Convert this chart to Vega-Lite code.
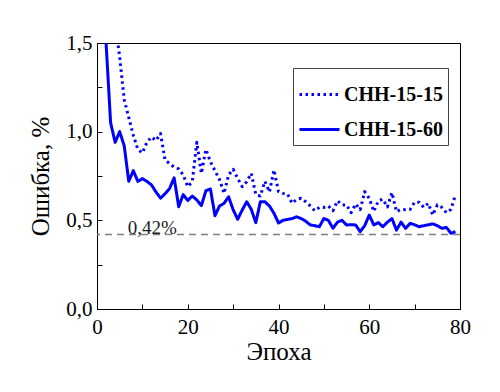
{
  "$schema": "https://vega.github.io/schema/vega-lite/v6.json",
  "width": 363,
  "height": 266,
  "autosize": "none",
  "padding": {"left": 97, "top": 43, "right": 40, "bottom": 83},
  "background": "white",
  "config": {
    "view": {"stroke": "black", "strokeWidth": 1},
    "font": "Liberation Serif",
    "axis": {"grid": false, "domainColor": "black", "tickColor": "black", "labelColor": "black", "titleColor": "black", "labelFont": "Liberation Serif", "titleFont": "Liberation Serif", "labelFontSize": 21, "titleFontSize": 25, "titleFontWeight": "normal"},
    "legend": {"labelFont": "Liberation Serif"},
    "text": {"font": "Liberation Serif"}
  },
  "datasets": {
    "series": [
      {"epoch": 1, "error": 2.3, "model": "СНН-15-60"},
      {"epoch": 2, "error": 1.5, "model": "СНН-15-60"},
      {"epoch": 3, "error": 1.05, "model": "СНН-15-60"},
      {"epoch": 4, "error": 0.94, "model": "СНН-15-60"},
      {"epoch": 5, "error": 1.0, "model": "СНН-15-60"},
      {"epoch": 6, "error": 0.92, "model": "СНН-15-60"},
      {"epoch": 7, "error": 0.72, "model": "СНН-15-60"},
      {"epoch": 8, "error": 0.78, "model": "СНН-15-60"},
      {"epoch": 9, "error": 0.72, "model": "СНН-15-60"},
      {"epoch": 10, "error": 0.735, "model": "СНН-15-60"},
      {"epoch": 11, "error": 0.72, "model": "СНН-15-60"},
      {"epoch": 12, "error": 0.7, "model": "СНН-15-60"},
      {"epoch": 13, "error": 0.66, "model": "СНН-15-60"},
      {"epoch": 14, "error": 0.625, "model": "СНН-15-60"},
      {"epoch": 15, "error": 0.65, "model": "СНН-15-60"},
      {"epoch": 16, "error": 0.68, "model": "СНН-15-60"},
      {"epoch": 17, "error": 0.74, "model": "СНН-15-60"},
      {"epoch": 18, "error": 0.577, "model": "СНН-15-60"},
      {"epoch": 19, "error": 0.645, "model": "СНН-15-60"},
      {"epoch": 20, "error": 0.612, "model": "СНН-15-60"},
      {"epoch": 21, "error": 0.637, "model": "СНН-15-60"},
      {"epoch": 22, "error": 0.615, "model": "СНН-15-60"},
      {"epoch": 23, "error": 0.583, "model": "СНН-15-60"},
      {"epoch": 24, "error": 0.667, "model": "СНН-15-60"},
      {"epoch": 25, "error": 0.677, "model": "СНН-15-60"},
      {"epoch": 26, "error": 0.526, "model": "СНН-15-60"},
      {"epoch": 27, "error": 0.581, "model": "СНН-15-60"},
      {"epoch": 28, "error": 0.596, "model": "СНН-15-60"},
      {"epoch": 29, "error": 0.633, "model": "СНН-15-60"},
      {"epoch": 30, "error": 0.56, "model": "СНН-15-60"},
      {"epoch": 31, "error": 0.506, "model": "СНН-15-60"},
      {"epoch": 32, "error": 0.558, "model": "СНН-15-60"},
      {"epoch": 33, "error": 0.605, "model": "СНН-15-60"},
      {"epoch": 34, "error": 0.562, "model": "СНН-15-60"},
      {"epoch": 35, "error": 0.487, "model": "СНН-15-60"},
      {"epoch": 36, "error": 0.605, "model": "СНН-15-60"},
      {"epoch": 37, "error": 0.605, "model": "СНН-15-60"},
      {"epoch": 38, "error": 0.581, "model": "СНН-15-60"},
      {"epoch": 39, "error": 0.54, "model": "СНН-15-60"},
      {"epoch": 40, "error": 0.485, "model": "СНН-15-60"},
      {"epoch": 41, "error": 0.5, "model": "СНН-15-60"},
      {"epoch": 42, "error": 0.505, "model": "СНН-15-60"},
      {"epoch": 43, "error": 0.51, "model": "СНН-15-60"},
      {"epoch": 44, "error": 0.52, "model": "СНН-15-60"},
      {"epoch": 45, "error": 0.51, "model": "СНН-15-60"},
      {"epoch": 46, "error": 0.495, "model": "СНН-15-60"},
      {"epoch": 47, "error": 0.474, "model": "СНН-15-60"},
      {"epoch": 48, "error": 0.47, "model": "СНН-15-60"},
      {"epoch": 49, "error": 0.464, "model": "СНН-15-60"},
      {"epoch": 50, "error": 0.51, "model": "СНН-15-60"},
      {"epoch": 51, "error": 0.5, "model": "СНН-15-60"},
      {"epoch": 52, "error": 0.455, "model": "СНН-15-60"},
      {"epoch": 53, "error": 0.49, "model": "СНН-15-60"},
      {"epoch": 54, "error": 0.5, "model": "СНН-15-60"},
      {"epoch": 55, "error": 0.474, "model": "СНН-15-60"},
      {"epoch": 56, "error": 0.475, "model": "СНН-15-60"},
      {"epoch": 57, "error": 0.474, "model": "СНН-15-60"},
      {"epoch": 58, "error": 0.436, "model": "СНН-15-60"},
      {"epoch": 59, "error": 0.47, "model": "СНН-15-60"},
      {"epoch": 60, "error": 0.53, "model": "СНН-15-60"},
      {"epoch": 61, "error": 0.474, "model": "СНН-15-60"},
      {"epoch": 62, "error": 0.487, "model": "СНН-15-60"},
      {"epoch": 63, "error": 0.464, "model": "СНН-15-60"},
      {"epoch": 64, "error": 0.49, "model": "СНН-15-60"},
      {"epoch": 65, "error": 0.51, "model": "СНН-15-60"},
      {"epoch": 66, "error": 0.445, "model": "СНН-15-60"},
      {"epoch": 67, "error": 0.49, "model": "СНН-15-60"},
      {"epoch": 68, "error": 0.455, "model": "СНН-15-60"},
      {"epoch": 69, "error": 0.483, "model": "СНН-15-60"},
      {"epoch": 70, "error": 0.475, "model": "СНН-15-60"},
      {"epoch": 71, "error": 0.464, "model": "СНН-15-60"},
      {"epoch": 72, "error": 0.47, "model": "СНН-15-60"},
      {"epoch": 73, "error": 0.475, "model": "СНН-15-60"},
      {"epoch": 74, "error": 0.48, "model": "СНН-15-60"},
      {"epoch": 75, "error": 0.47, "model": "СНН-15-60"},
      {"epoch": 76, "error": 0.455, "model": "СНН-15-60"},
      {"epoch": 77, "error": 0.46, "model": "СНН-15-60"},
      {"epoch": 78, "error": 0.427, "model": "СНН-15-60"},
      {"epoch": 79, "error": 0.436, "model": "СНН-15-60"},
      {"epoch": 4, "error": 1.62, "model": "СНН-15-15"},
      {"epoch": 5, "error": 1.42, "model": "СНН-15-15"},
      {"epoch": 6, "error": 1.18, "model": "СНН-15-15"},
      {"epoch": 7, "error": 1.08, "model": "СНН-15-15"},
      {"epoch": 8, "error": 0.98, "model": "СНН-15-15"},
      {"epoch": 9, "error": 0.9, "model": "СНН-15-15"},
      {"epoch": 10, "error": 0.88, "model": "СНН-15-15"},
      {"epoch": 11, "error": 0.94, "model": "СНН-15-15"},
      {"epoch": 12, "error": 0.97, "model": "СНН-15-15"},
      {"epoch": 13, "error": 0.95, "model": "СНН-15-15"},
      {"epoch": 14, "error": 0.99, "model": "СНН-15-15"},
      {"epoch": 15, "error": 0.84, "model": "СНН-15-15"},
      {"epoch": 16, "error": 0.82, "model": "СНН-15-15"},
      {"epoch": 17, "error": 0.8, "model": "СНН-15-15"},
      {"epoch": 18, "error": 0.79, "model": "СНН-15-15"},
      {"epoch": 19, "error": 0.756, "model": "СНН-15-15"},
      {"epoch": 20, "error": 0.69, "model": "СНН-15-15"},
      {"epoch": 21, "error": 0.718, "model": "СНН-15-15"},
      {"epoch": 22, "error": 0.94, "model": "СНН-15-15"},
      {"epoch": 23, "error": 0.765, "model": "СНН-15-15"},
      {"epoch": 24, "error": 0.9, "model": "СНН-15-15"},
      {"epoch": 25, "error": 0.83, "model": "СНН-15-15"},
      {"epoch": 26, "error": 0.78, "model": "СНН-15-15"},
      {"epoch": 27, "error": 0.73, "model": "СНН-15-15"},
      {"epoch": 28, "error": 0.652, "model": "СНН-15-15"},
      {"epoch": 29, "error": 0.756, "model": "СНН-15-15"},
      {"epoch": 30, "error": 0.788, "model": "СНН-15-15"},
      {"epoch": 31, "error": 0.737, "model": "СНН-15-15"},
      {"epoch": 32, "error": 0.69, "model": "СНН-15-15"},
      {"epoch": 33, "error": 0.718, "model": "СНН-15-15"},
      {"epoch": 34, "error": 0.765, "model": "СНН-15-15"},
      {"epoch": 35, "error": 0.645, "model": "СНН-15-15"},
      {"epoch": 36, "error": 0.637, "model": "СНН-15-15"},
      {"epoch": 37, "error": 0.72, "model": "СНН-15-15"},
      {"epoch": 38, "error": 0.66, "model": "СНН-15-15"},
      {"epoch": 39, "error": 0.784, "model": "СНН-15-15"},
      {"epoch": 40, "error": 0.662, "model": "СНН-15-15"},
      {"epoch": 41, "error": 0.652, "model": "СНН-15-15"},
      {"epoch": 42, "error": 0.648, "model": "СНН-15-15"},
      {"epoch": 43, "error": 0.596, "model": "СНН-15-15"},
      {"epoch": 44, "error": 0.619, "model": "СНН-15-15"},
      {"epoch": 45, "error": 0.624, "model": "СНН-15-15"},
      {"epoch": 46, "error": 0.605, "model": "СНН-15-15"},
      {"epoch": 47, "error": 0.581, "model": "СНН-15-15"},
      {"epoch": 48, "error": 0.554, "model": "СНН-15-15"},
      {"epoch": 49, "error": 0.573, "model": "СНН-15-15"},
      {"epoch": 50, "error": 0.573, "model": "СНН-15-15"},
      {"epoch": 51, "error": 0.581, "model": "СНН-15-15"},
      {"epoch": 52, "error": 0.554, "model": "СНН-15-15"},
      {"epoch": 53, "error": 0.61, "model": "СНН-15-15"},
      {"epoch": 54, "error": 0.587, "model": "СНН-15-15"},
      {"epoch": 55, "error": 0.587, "model": "СНН-15-15"},
      {"epoch": 56, "error": 0.543, "model": "СНН-15-15"},
      {"epoch": 57, "error": 0.592, "model": "СНН-15-15"},
      {"epoch": 58, "error": 0.56, "model": "СНН-15-15"},
      {"epoch": 59, "error": 0.662, "model": "СНН-15-15"},
      {"epoch": 60, "error": 0.624, "model": "СНН-15-15"},
      {"epoch": 61, "error": 0.55, "model": "СНН-15-15"},
      {"epoch": 62, "error": 0.61, "model": "СНН-15-15"},
      {"epoch": 63, "error": 0.619, "model": "СНН-15-15"},
      {"epoch": 64, "error": 0.575, "model": "СНН-15-15"},
      {"epoch": 65, "error": 0.656, "model": "СНН-15-15"},
      {"epoch": 66, "error": 0.549, "model": "СНН-15-15"},
      {"epoch": 67, "error": 0.562, "model": "СНН-15-15"},
      {"epoch": 68, "error": 0.56, "model": "СНН-15-15"},
      {"epoch": 69, "error": 0.562, "model": "СНН-15-15"},
      {"epoch": 70, "error": 0.602, "model": "СНН-15-15"},
      {"epoch": 71, "error": 0.602, "model": "СНН-15-15"},
      {"epoch": 72, "error": 0.573, "model": "СНН-15-15"},
      {"epoch": 73, "error": 0.596, "model": "СНН-15-15"},
      {"epoch": 74, "error": 0.53, "model": "СНН-15-15"},
      {"epoch": 75, "error": 0.587, "model": "СНН-15-15"},
      {"epoch": 76, "error": 0.573, "model": "СНН-15-15"},
      {"epoch": 77, "error": 0.543, "model": "СНН-15-15"},
      {"epoch": 78, "error": 0.562, "model": "СНН-15-15"},
      {"epoch": 79, "error": 0.643, "model": "СНН-15-15"}
    ]
  },
  "layer": [
    {
      "data": {"values": [{"level": 0.42, "label": "0,42%"}]},
      "mark": {"type": "rule", "color": "#808080", "strokeWidth": 1.5, "strokeDash": [7, 5]},
      "encoding": {"y": {"field": "level", "type": "quantitative"}}
    },
    {
      "data": {"values": [{"level": 0.42, "label": "0,42%", "at": 12.2}]},
      "mark": {"type": "text", "font": "Liberation Serif", "fontSize": 19, "color": "#222222", "baseline": "alphabetic", "align": "center", "dy": -1},
      "encoding": {
        "x": {"field": "at", "type": "quantitative"},
        "y": {"field": "level", "type": "quantitative"},
        "text": {"field": "label"}
      }
    },
    {
      "data": {"name": "series"},
      "mark": {"type": "line", "clip": true, "strokeWidth": 3, "strokeJoin": "round"},
      "encoding": {
        "x": {
          "field": "epoch", "type": "quantitative",
          "scale": {"domain": [0, 80], "nice": false},
          "axis": {"title": "Эпоха", "labelFont": "Liberation Serif", "titleFont": "Liberation Serif", "values": [0, 10, 20, 30, 40, 50, 60, 70, 80], "labelExpr": "datum.value % 20 == 0 ? datum.label : ''", "tickSize": -5, "labelPadding": 12, "titlePadding": 2, "labelFlush": false}
        },
        "y": {
          "field": "error", "type": "quantitative",
          "scale": {"domain": [0, 1.5], "nice": false, "zero": true},
          "axis": {"title": "Ошибка, %", "labelFont": "Liberation Serif", "titleFont": "Liberation Serif", "values": [0, 0.25, 0.5, 0.75, 1, 1.25, 1.5], "labelExpr": "datum.value % 0.5 == 0 ? replace(format(datum.value, '.1f'), '.', ',') : ''", "tickSize": -5, "labelPadding": 10, "titlePadding": 12, "labelFlush": false}
        },
        "color": {
          "field": "model", "type": "nominal",
          "scale": {"domain": ["СНН-15-15", "СНН-15-60"], "range": ["#0000ff", "#0000ff"]},
          "legend": {
            "title": null, "orient": "none", "legendX": 196, "legendY": 25,
            "symbolType": "stroke", "symbolSize": 1600, "symbolStrokeWidth": 3,
            "labelFont": "Liberation Serif", "labelFontSize": 20, "labelFontWeight": "bold", "labelColor": "black",
            "strokeColor": "#444444", "fillColor": "white", "padding": 5, "rowPadding": 3, "labelOffset": 3, "labelLimit": 300
          }
        },
        "strokeDash": {
          "field": "model", "type": "nominal",
          "scale": {"domain": ["СНН-15-15", "СНН-15-60"], "range": [[2.5, 3.5], [1, 0]]},
          "legend": {
            "title": null, "orient": "none", "legendX": 196, "legendY": 25,
            "symbolType": "stroke", "symbolSize": 1600, "symbolStrokeWidth": 3,
            "labelFont": "Liberation Serif", "labelFontSize": 20, "labelFontWeight": "bold", "labelColor": "black",
            "strokeColor": "#444444", "fillColor": "white", "padding": 5, "rowPadding": 3, "labelOffset": 3, "labelLimit": 300
          }
        }
      }
    }
  ]
}
